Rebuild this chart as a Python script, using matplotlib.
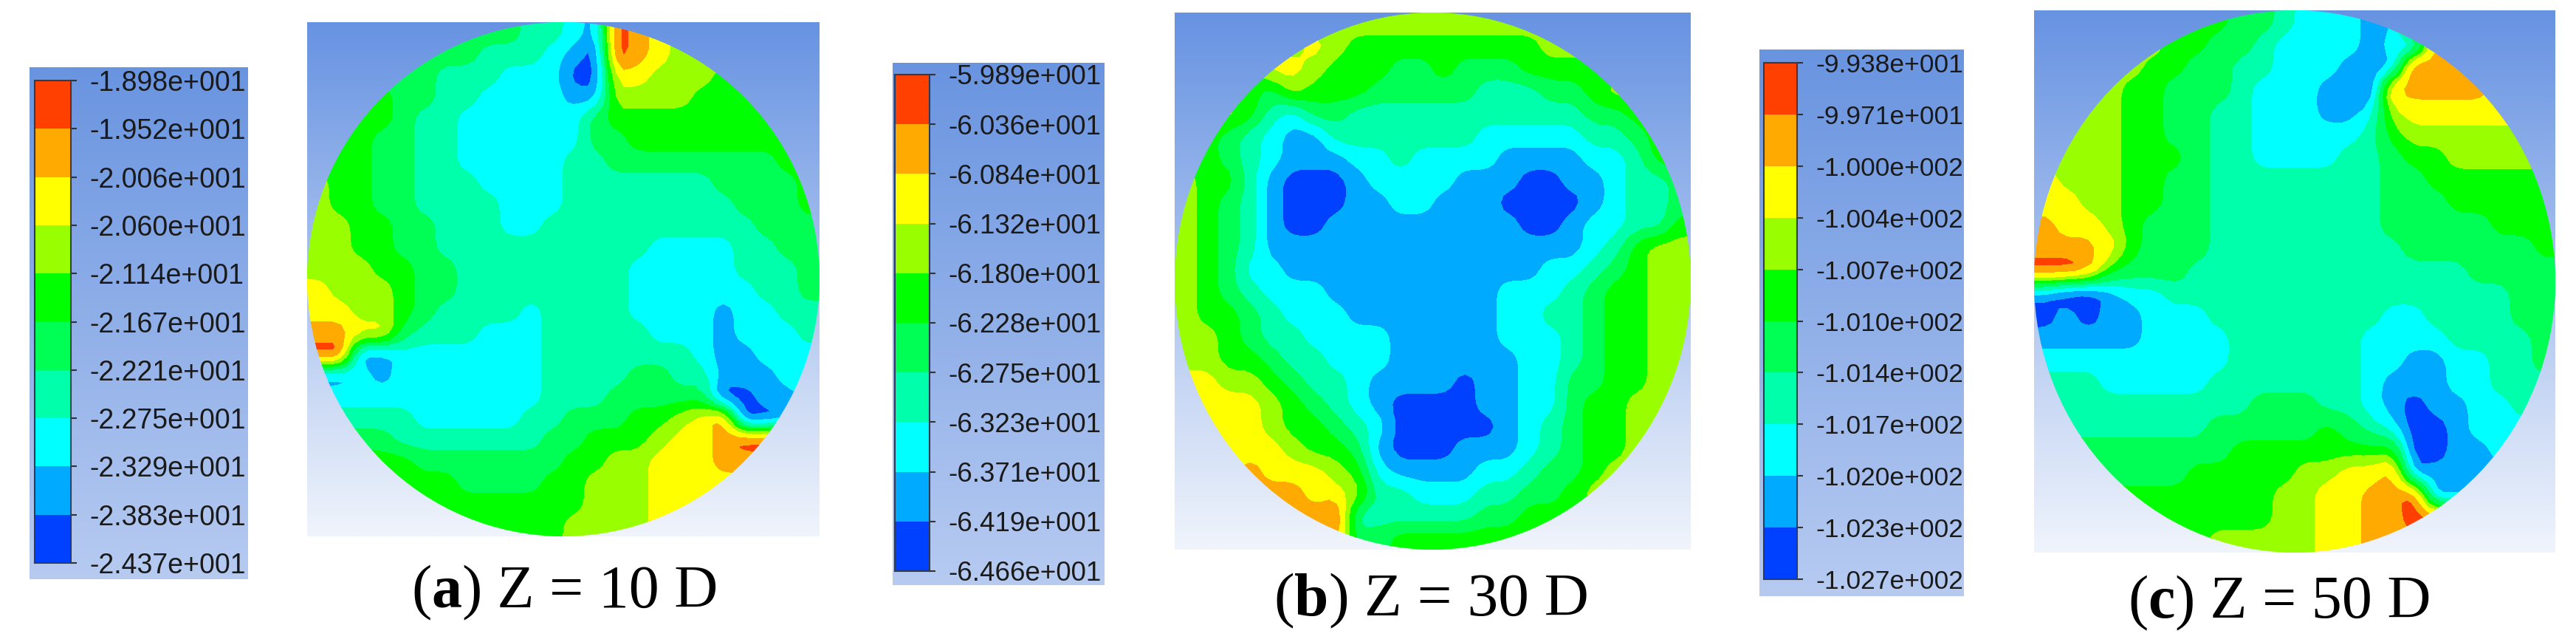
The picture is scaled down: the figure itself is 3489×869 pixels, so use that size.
import numpy as np
import matplotlib
matplotlib.use("Agg")
import matplotlib.pyplot as plt
from matplotlib.patches import Ellipse

W, H = 3489, 869

# colour bands, lowest to highest
band_colors = ['#0040ff', '#00aaff', '#00ffff', '#00ffaa', '#00ff55',
               '#00ff00', '#99ff00', '#ffff00', '#ffaa00', '#ff4000']

# colorbar labels, top to bottom
ticks_a = ['-1.898e+001', '-1.952e+001', '-2.006e+001', '-2.060e+001', '-2.114e+001', '-2.167e+001',
           '-2.221e+001', '-2.275e+001', '-2.329e+001', '-2.383e+001', '-2.437e+001']
ticks_b = ['-5.989e+001', '-6.036e+001', '-6.084e+001', '-6.132e+001', '-6.180e+001', '-6.228e+001',
           '-6.275e+001', '-6.323e+001', '-6.371e+001', '-6.419e+001', '-6.466e+001']
ticks_c = ['-9.938e+001', '-9.971e+001', '-1.000e+002', '-1.004e+002', '-1.007e+002', '-1.010e+002',
           '-1.014e+002', '-1.017e+002', '-1.020e+002', '-1.023e+002', '-1.027e+002']

bands_a = [
    "444444444433219876666666",
    "444444443332109876666666",
    "444444333222007766655555",
    "555544332222116666555555",
    "555543322222245555555555",
    "555443322222244555555555",
    "555443322222334444444455",
    "655443332222333333344445",
    "655443333222333333334445",
    "665544333223333333333444",
    "665544333333333322223344",
    "666554433333333222223334",
    "766654433333333222222334",
    "776654333323333222212233",
    "887743332223333322212223",
    "991122222223333333211222",
    "112122222223333443311122",
    "222222222223334444400112",
    "333332222233444556780011",
    "444433333334455567789999",
    "555554444444556677788888",
    "555555544445566677777777",
    "555555555555566677777777",
    "555555555555666677777777",
]
bands_b = [
    "666666666666666666666666",
    "666666765555555556666666",
    "555577655544544455555555",
    "555546555444443334456666",
    "666532443333333333344555",
    "554321133333332222233455",
    "554321112232222111122355",
    "655310001222211100112334",
    "654310001122111000012334",
    "654310011111111100122335",
    "654311111111111111123566",
    "654221111111111112234566",
    "654322211111111222345566",
    "655432221111111223345566",
    "665433222211111222345566",
    "665543322211111122345566",
    "776654332111101122445566",
    "777765432100001122455666",
    "777765543200000123455666",
    "777776554100011123455666",
    "777877765211112234456666",
    "888888776332223344566666",
    "888888893333334455555555",
    "888888884455555555555555",
]
bands_c = [
    "555555555443222118888888",
    "666666554432222121888888",
    "666665544332221119888888",
    "666655444322211088888777",
    "666655443322211267777777",
    "666655443322222356666666",
    "666655543322223345566666",
    "766655443333333344555555",
    "776655443333333344455555",
    "877654443333333344444555",
    "888754443333333334444445",
    "998544433333333333334444",
    "100122333333333333333344",
    "010112223333333322333344",
    "111112222333333222233334",
    "222222222333333221122334",
    "333222223333333211122333",
    "333333333344433210112233",
    "333333334444454320012222",
    "444444444555555550011222",
    "444444455555667781111111",
    "555555555556677889111111",
    "555555555556677889999999",
    "555555556666677888888888",
]

captions = [('a', ' Z = 10 D'), ('b', ' Z = 30 D'), ('c', ' Z = 50 D')]

fig = plt.figure(figsize=(W / 100, H / 100), dpi=100, facecolor='white')


def px_axes(x0, y0, x1, y1):
    # axes from pixel box, y measured from the top
    return fig.add_axes([x0 / W, 1 - y1 / H, (x1 - x0) / W, (y1 - y0) / H])


def gradient(ax, top, bottom):
    t = np.linspace(0, 1, 256)[:, None, None]
    img = (1 - t) * np.array(top)[None, None, :] + t * np.array(bottom)[None, None, :]
    ax.imshow(img / 255, extent=(0, 1, 1, 0), aspect='auto', interpolation='bilinear')
    ax.set_xlim(0, 1)
    ax.set_ylim(1, 0)
    ax.axis('off')


def soften(field, k=3):
    # take the stair steps of the cell grid off the contour edges
    fine = np.kron(field, np.ones((k, k)))
    kernel = np.array([1, 2, 3, 2, 1]) / 9
    for axis in (0, 1):
        fine = np.apply_along_axis(
            lambda v: np.convolve(np.pad(v, 2, mode='edge'), kernel, mode='valid'), axis, fine)
    return fine


def draw_section(box, bands, ticks):
    ax = px_axes(*box)
    gradient(ax, (103, 147, 226), (240, 244, 252))

    levels = np.array(sorted(float(s) for s in ticks))
    codes = np.array([[int(c) for c in row] for row in bands])
    mids = (levels[:-1] + levels[1:]) / 2
    field = soften(mids[codes])
    n = field.shape[0]
    xy = (np.arange(n) + 0.5) / n
    xy[0], xy[-1] = 0, 1

    clip = Ellipse((0.5, 0.5), 1, 1, transform=ax.transData, facecolor='none', edgecolor='none')
    ax.add_patch(clip)
    cs = ax.contourf(xy, xy, field, levels=levels, colors=band_colors)
    cs.set_clip_path(clip)
    cs.set_edgecolor('face')
    cs.set_linewidth(0.4)


def draw_colorbar(bg_box, bar_box, ticks, fsize):
    bg = px_axes(*bg_box)
    gradient(bg, (105, 148, 224), (183, 203, 241))

    ax = px_axes(*bar_box)
    ax.patch.set_alpha(0)
    pos = np.arange(len(ticks))
    ax.pcolormesh([0, 1], pos, np.arange(10)[::-1][:, None],
                  cmap=matplotlib.colors.ListedColormap(band_colors), vmin=-0.5, vmax=9.5)
    ax.set_ylim(pos[-1], pos[0])
    ax.set_xticks([])
    ax.set_yticks(pos)
    ax.set_yticklabels(ticks, fontsize=fsize, family='Liberation Sans', color='#1a1a1a')
    ax.yaxis.tick_right()
    ax.tick_params(axis='y', length=6, width=1.5, color='#333333', pad=12)
    for s in ax.spines.values():
        s.set_color('#2f3b55')
        s.set_linewidth(1.5)


def draw_caption(x, y, letter, rest, fsize):
    renderer = fig.canvas.get_renderer()
    parts = [('(', 'normal'), (letter, 'bold'), (')', 'normal'), (rest, 'normal')]
    cur = x
    for s, w in parts:
        t = fig.text(cur / W, 1 - y / H, s, family='Liberation Serif', fontsize=fsize,
                     fontweight=w, va='baseline', color='black')
        cur += t.get_window_extent(renderer).width


draw_colorbar((40, 91, 336, 784), (47, 109, 96, 762), ticks_a, 27)
draw_section((416, 30, 1110, 726), bands_a, ticks_a)
draw_caption(557, 822, *captions[0], 59)

draw_colorbar((1209, 85, 1496, 792), (1212, 101, 1259, 773), ticks_b, 26.5)
draw_section((1591, 17, 2290, 744), bands_b, ticks_b)
draw_caption(1725, 833, *captions[1], 60)

draw_colorbar((2383, 67, 2660, 807), (2389, 85, 2434, 784), ticks_c, 25.5)
draw_section((2755, 14, 3461, 748), bands_c, ticks_c)
draw_caption(2882, 836, *captions[2], 59)

fig.savefig('out.png', dpi=100)
